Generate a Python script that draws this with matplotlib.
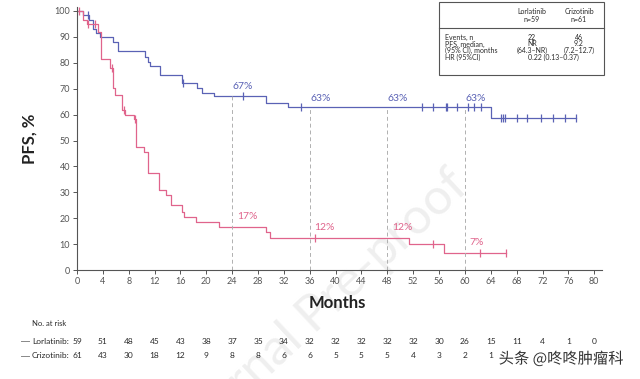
import numpy as np
from matplotlib import pyplot as plt
from matplotlib import transforms
from matplotlib.lines import Line2D
from matplotlib.patches import Rectangle
import matplotlib.patheffects as pe

plt.rcParams['font.family'] = ['Lato', 'DejaVu Sans']

# KM 곡선 데이터
lor_t = [0, 1.0, 1.8, 2.5, 3.0, 3.5, 5.5, 6.4, 10.5, 11.0, 11.3, 12.8, 16.3, 18.5, 19.4, 21.2, 29.2, 32.7, 64.1, 77.2]
lor_s = [100, 98.3, 96.6, 93.2, 91.5, 89.8, 88.1, 84.7, 82.4, 80.4, 78.9, 75.3, 72.1, 70.4, 68.2, 67.1, 64.4, 62.8, 58.6, 58.6]
lor_cens = [1.7, 16.4, 25.7, 34.7, 53.3, 55.0, 57.0, 57.3, 58.8, 60.5, 61.4, 62.5,
            65.6, 65.9, 66.2, 68.0, 69.6, 71.7, 73.6, 75.5, 77.2]

cri_t = [0, 0.9, 1.5, 3.2, 3.7, 5.1, 5.5, 5.9, 7.0, 7.5, 8.8, 9.1, 10.3, 11.0, 12.7, 13.7, 14.6, 16.3, 16.6,
         18.4, 21.9, 29.2, 29.9, 51.3, 56.7, 66.3]
cri_s = [100, 96.7, 95.1, 91.8, 81.3, 77.8, 70.1, 67.6, 61.8, 59.8, 58.2, 47.6, 45.4, 37.3, 30.9, 29.0, 25.1, 22.5, 20.6,
         18.7, 16.5, 14.8, 12.2, 10.0, 6.4, 6.4]
cri_cens = [0.3, 1.75, 2.8, 5.4, 7.2, 9.0, 36.8, 55.1, 62.4, 66.3]

landmarks = [24, 36, 48, 60]
lor_pct = ["67%", "63%", "63%", "63%"]
cri_pct = ["17%", "12%", "12%", "7%"]

# 위험군 수
risk_months = list(range(0, 84, 4))
lor_risk = [59, 51, 48, 45, 43, 38, 37, 35, 34, 32, 32, 32, 32, 32, 30, 26, 15, 11, 4, 1, 0]
cri_risk = [61, 43, 30, 18, 12, 9, 8, 8, 6, 6, 5, 5, 5, 4, 3, 2, 1]

blue = "#5a62b5"
pink = "#e0648c"
txt = "#2a2a2a"


def step_value(times, surv, t):
    i = np.searchsorted(times, t, side="right") - 1
    return np.array(surv)[i]


fig = plt.figure(figsize=(6.4, 3.79), dpi=100)
ax = fig.add_axes([77 / 640, 1 - 270 / 379, 525 / 640, 101.5 * 2.59 / 379])
ax.patch.set_visible(False)  # 워터마크가 뒤에 보이도록

# 워터마크 (Journal Pre-proof) - 곡선 뒤에
fig.text(0.5, 0.18, "Journal Pre-proof", rotation=43, fontsize=36, color="#efefef",
         ha="center", va="center", zorder=-1)

ax.step(lor_t, lor_s, where="post", color=blue, lw=0.9)
ax.step(cri_t, cri_s, where="post", color=pink, lw=0.9)
ax.plot(lor_cens, step_value(lor_t, lor_s, lor_cens), ls="none", marker="|", ms=6, mew=0.9, color=blue)
ax.plot(cri_cens, step_value(cri_t, cri_s, cri_cens), ls="none", marker="|", ms=6, mew=0.9, color=pink)

# 랜드마크 점선과 퍼센트
lm_top = step_value(lor_t, lor_s, landmarks)
ax.vlines(landmarks, 0, lm_top, colors="#b0b0b0", linestyles=(0, (4, 3)), lw=0.7)
for m, top, lp, cp in zip(landmarks, lm_top, lor_pct, cri_pct):
    ax.text(m + 0.1, top + 3.6, lp, color=blue, fontsize=7.5, ha="left", va="center")
    ax.text(m + 0.7, step_value(cri_t, cri_s, m) + 4.2, cp, color=pink, fontsize=7.5, ha="left", va="center")

ax.set_xlim(0, 81.2)
ax.set_ylim(0, 101.5)
ax.set_xticks(range(0, 84, 4))
ax.set_yticks(range(0, 110, 10))
ax.tick_params(labelsize=6.5, colors="#555555", length=3, width=0.7, pad=2)
for s in ["top", "right"]:
    ax.spines[s].set_visible(False)
for s in ["left", "bottom"]:
    ax.spines[s].set_color("#555555")
    ax.spines[s].set_linewidth(0.8)

fig.text(30 / 640, 1 - 139 / 379, "PFS, %", rotation=90, fontsize=12, fontweight="bold",
         color="#222222", ha="center", va="center")
fig.text(337 / 640, 1 - 303 / 379, "Months", fontsize=12, fontweight="bold",
         color="#222222", ha="center", va="center")

# 오른쪽 위 표
x0, x1, y0, y1 = 439 / 640, 604 / 640, 1 - 75 / 379, 1 - 2 / 379
fig.patches.append(Rectangle((x0, y0), x1 - x0, y1 - y0, transform=fig.transFigure,
                             fill=False, ec="#555555", lw=0.8))
fig.add_artist(Line2D([x0, x1], [1 - 28 / 379] * 2, transform=fig.transFigure, color="#555555", lw=0.8))
c1, c2, cl = 532 / 640, 579 / 640, 445 / 640
fs = 5
fig.text(c1, 1 - 12 / 379, "Lorlatinib", fontsize=fs, ha="center", va="center", color=txt)
fig.text(c1, 1 - 20 / 379, "n=59", fontsize=fs, ha="center", va="center", color=txt)
fig.text(c2, 1 - 12 / 379, "Crizotinib", fontsize=fs, ha="center", va="center", color=txt)
fig.text(c2, 1 - 20 / 379, "n=61", fontsize=fs, ha="center", va="center", color=txt)
rows_y = [37.3, 44, 50.7, 57.4]
row_lab = ["Events, n", "PFS, median,", "(95% CI), months", "HR (95%CI)"]
lor_col = ["22", "NR", "(64.3–NR)"]
cri_col = ["46", "9.2", "(7.2–12.7)"]
for yy, lab in zip(rows_y, row_lab):
    fig.text(cl, 1 - yy / 379, lab, fontsize=fs, ha="left", va="center", color=txt)
for yy, a, b in zip(rows_y, lor_col, cri_col):
    fig.text(c1, 1 - yy / 379, a, fontsize=fs, ha="center", va="center", color=txt)
    fig.text(c2, 1 - yy / 379, b, fontsize=fs, ha="center", va="center", color=txt)
fig.text(553 / 640, 1 - rows_y[3] / 379, "0.22 (0.13–0.37)", fontsize=fs, ha="center", va="center", color=txt)

# No. at risk
tr = transforms.blended_transform_factory(ax.transData, fig.transFigure)
fig.text(32 / 640, 1 - 324 / 379, "No. at risk", fontsize=5.5, ha="left", va="center", color=txt)
for yy, name, vals in [(341, "Lorlatinib:", lor_risk), (356, "Crizotinib:", cri_risk)]:
    fig.add_artist(Line2D([21 / 640, 29 / 640], [1 - yy / 379] * 2, transform=fig.transFigure, color="#888888", lw=0.7))
    fig.text(32 / 640, 1 - yy / 379, name, fontsize=6, ha="left", va="center", color=txt)
    for m, v in zip(risk_months, vals):
        fig.text(m, 1 - yy / 379, str(v), fontsize=6, ha="center", va="center", color=txt, transform=tr)

# 头条 워터마크
fig.text(561 / 640, 1 - 359 / 379, "头条 @咚咚肿瘤科", fontsize=11, ha="center", va="center",
         color="#333333", family=["Noto Sans CJK SC", "DejaVu Sans"],
         path_effects=[pe.withStroke(linewidth=2, foreground="white")])

plt.savefig("out.png", dpi=100)
